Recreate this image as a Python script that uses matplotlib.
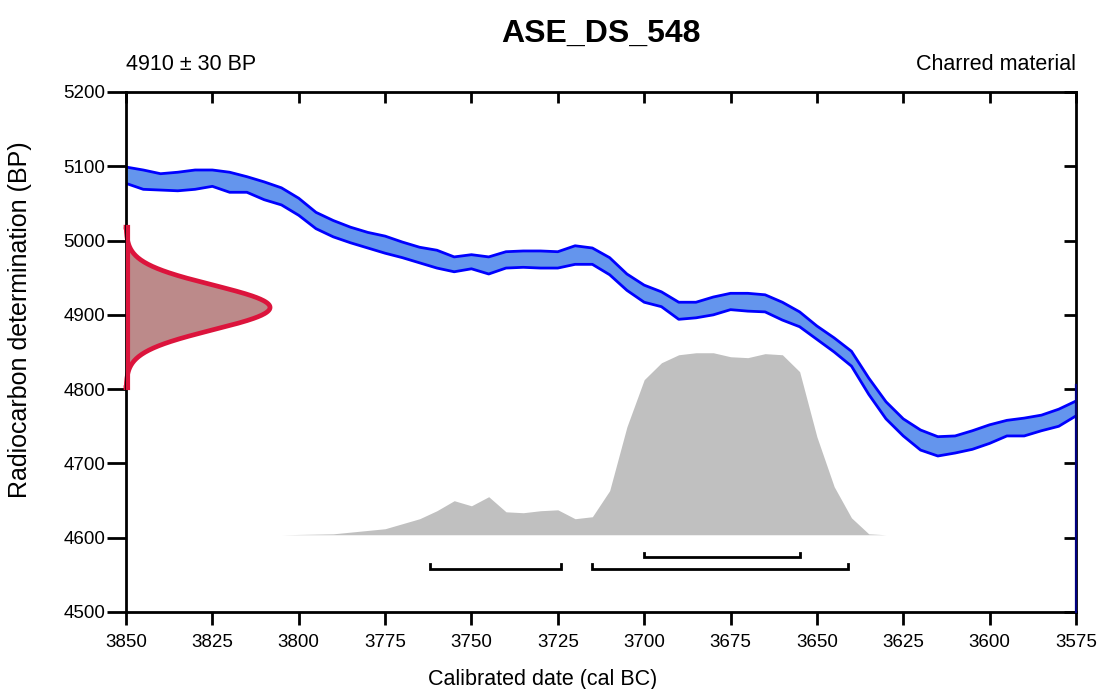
import numpy as np
import matplotlib
matplotlib.use("Agg")
import matplotlib.pyplot as plt

plt.rcParams['font.family'] = ['Liberation Sans', 'DejaVu Sans']

# ---- data ----
title = "ASE_DS_548"
c14_mean = 4910
c14_err = 30
material = "Charred material"

# calibration curve (IntCal band), 5-year steps
curve_years = [3850, 3845, 3840, 3835, 3830, 3825, 3820, 3815, 3810, 3805,
               3800, 3795, 3790, 3785, 3780, 3775, 3770, 3765, 3760, 3755,
               3750, 3745, 3740, 3735, 3730, 3725, 3720, 3715, 3710, 3705,
               3700, 3695, 3690, 3685, 3680, 3675, 3670, 3665, 3660, 3655,
               3650, 3645, 3640, 3635, 3630, 3625, 3620, 3615, 3610, 3605,
               3600, 3595, 3590, 3585, 3580, 3575]
curve_upper = [5099, 5095, 5090, 5092, 5095, 5095, 5092, 5086, 5079, 5071,
               5057, 5038, 5027, 5018, 5011, 5006, 4998, 4991, 4987, 4978,
               4981, 4978, 4985, 4986, 4986, 4985, 4993, 4990, 4977, 4955,
               4940, 4931, 4917, 4917, 4924, 4929, 4929, 4927, 4917, 4904,
               4885, 4869, 4851, 4815, 4783, 4760, 4745, 4736, 4737, 4744,
               4752, 4758, 4761, 4765, 4773, 4784]
curve_lower = [5077, 5069, 5068, 5067, 5069, 5073, 5065, 5065, 5055, 5048,
               5034, 5016, 5005, 4997, 4990, 4983, 4977, 4970, 4963, 4958,
               4962, 4955, 4963, 4964, 4963, 4963, 4968, 4968, 4954, 4933,
               4917, 4911, 4894, 4896, 4900, 4907, 4905, 4904, 4893, 4884,
               4867, 4850, 4831, 4793, 4760, 4737, 4718, 4710, 4714, 4719,
               4727, 4737, 4737, 4744, 4750, 4764]

# calibrated probability distribution (relative)
prob_years = [3805, 3790, 3775, 3765, 3760, 3755, 3750, 3745, 3740, 3735,
              3730, 3725, 3720, 3715, 3710, 3705, 3700, 3695, 3690, 3685,
              3680, 3675, 3670, 3665, 3660, 3655, 3650, 3645, 3640, 3635, 3630]
prob_vals = [0.0, 0.005, 0.033, 0.088, 0.132, 0.187, 0.159, 0.209, 0.126, 0.121,
             0.132, 0.137, 0.088, 0.099, 0.242, 0.593, 0.852, 0.945, 0.989, 1.0,
             1.0, 0.978, 0.973, 0.995, 0.989, 0.896, 0.538, 0.264, 0.093, 0.005, 0.0]

# highest posterior density ranges (cal BC)
hpd68 = [(3700, 3655)]
hpd95 = [(3762, 3724), (3715, 3641)]

xticks = [3850, 3825, 3800, 3775, 3750, 3725, 3700, 3675, 3650, 3625, 3600, 3575]
yticks = [4500, 4600, 4700, 4800, 4900, 5000, 5100, 5200]

# ---- figure ----
fig = plt.figure(figsize=(10.98, 6.89), dpi=100)
ax = fig.add_axes([126/1098, 1-612/689, 950/1098, 520/689])
ax.set_xlim(3850, 3575)
ax.set_ylim(4500, 5200)

# calibration curve band
ax.fill_between(curve_years, curve_lower, curve_upper, color='#6495ED', lw=0, zorder=3)
ax.plot(curve_years, curve_upper, color='#0000FF', lw=2, zorder=4)
ax.plot(curve_years, curve_lower, color='#0000FF', lw=2, zorder=4)
ax.plot([3575, 3575], [4500, 4806], color='#000080', lw=1.6, zorder=8, clip_on=False)

# radiocarbon determination (normal density on y axis)
ys = np.linspace(c14_mean - 3.6*c14_err, c14_mean + 3.6*c14_err, 300)
dens = np.exp(-0.5*((ys - c14_mean)/c14_err)**2)
amp = 41.7
xs = 3850 - amp*dens
ax.fill_betweenx(ys, 3850, xs, color='#BC8A8A', lw=0, zorder=2)
ax.plot(np.r_[3850, xs, 3850], np.r_[ys[0], ys, ys[-1]], color='#DC143C', lw=3.4,
        zorder=6, clip_on=False, solid_joinstyle='round')
ax.plot([3849.5, 3849.5], [ys[0], ys[-1]], color='#DC143C', lw=3, zorder=8, clip_on=False)

# calibrated distribution
base = 4604
scale = 245
pv = np.array(prob_vals)
ax.fill_between(prob_years, base, base + pv*scale, color='#C0C0C0', lw=0, zorder=1)

# hpd brackets
def bracket(x1, x2, y, h=6):
    ax.plot([x1, x1, x2, x2], [y+h, y, y, y+h], color='black', lw=2, zorder=5,
            solid_joinstyle='miter')
for a, b in hpd68:
    bracket(a, b, 4574)
for a, b in hpd95:
    bracket(a, b, 4558)

# axes styling
for s in ax.spines.values():
    s.set_linewidth(2)
    s.set_zorder(7)
ax.set_xticks(xticks)
ax.set_yticks(yticks)
ax.tick_params(axis='x', direction='out', length=9.5, width=2, labelsize=13.5, pad=6.5)
ax.tick_params(axis='y', direction='out', length=14, width=2, labelsize=13.5, pad=0.8)
secx = ax.secondary_xaxis('top')
secx.set_xticks(xticks)
secx.tick_params(direction='in', length=8, width=2, labeltop=False)
secx.spines['top'].set_visible(False)
secy = ax.secondary_yaxis('right')
secy.set_yticks(yticks)
secy.tick_params(direction='in', length=9, width=2, labelright=False)
secy.spines['right'].set_visible(False)

fig.text(543/1098, 1-679/689, "Calibrated date (cal BC)", ha='center', va='center', fontsize=15.5)
fig.text(20/1098, 1-320/689, "Radiocarbon determination (BP)", ha='center', va='center',
         rotation=90, fontsize=18)

fig.text(601/1098, 1-34/689, title, ha='center', va='center', fontsize=23, fontweight='bold')
fig.text(126/1098, 1-65/689, f"{c14_mean} \u00b1 {c14_err} BP", ha='left', va='center', fontsize=15.5)
fig.text(1076/1098, 1-65/689, material, ha='right', va='center', fontsize=15.5)

fig.savefig("out.png", dpi=100)
